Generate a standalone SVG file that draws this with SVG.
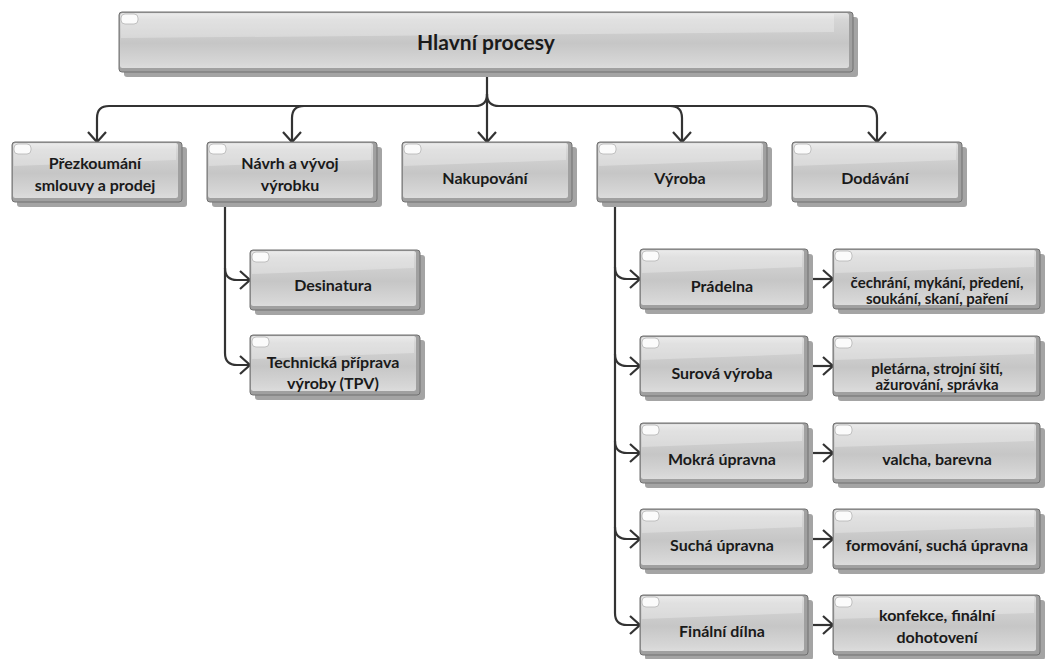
<svg xmlns="http://www.w3.org/2000/svg" width="1046" height="659" viewBox="0 0 1046 659">
  <style>
    .shadow { fill: #a4a4a4; }
    .frame { fill: #a0a0a0; stroke: #707070; stroke-width: 1; }
    .face { fill: url(#faceGrad); }
    .gloss { fill: #ffffff; opacity: 0.28; }
    .tab { fill: #fbfbfb; stroke: #b4b4b4; stroke-width: 0.8; }
    text { font-family: "Lato", "Liberation Sans", sans-serif; font-weight: 700; font-size: 16px; fill: #1a1a1a; text-anchor: middle; }
    text.title { font-size: 21px; }
    text.small { font-size: 15px; }
    .conn path { fill: none; stroke: #333333; stroke-width: 2.2; stroke-linejoin: round; marker-end: url(#arrow); }
  </style>
  <defs>
    <linearGradient id="faceGrad" x1="0" y1="0" x2="0" y2="1">
      <stop offset="0" stop-color="#e4e4e4"/>
      <stop offset="0.12" stop-color="#d6d6d6"/>
      <stop offset="0.55" stop-color="#c6c6c6"/>
      <stop offset="0.9" stop-color="#d6d6d6"/>
      <stop offset="1" stop-color="#dcdcdc"/>
    </linearGradient>
    <marker id="arrow" markerUnits="userSpaceOnUse" viewBox="-12 -11 14 22" refX="0" refY="0" markerWidth="14" markerHeight="22" orient="auto">
      <path d="M-10,-9 L0,0 L-10,9" fill="none" stroke="#333333" stroke-width="2.2" stroke-linejoin="miter"/>
    </marker>
  </defs>

  <rect width="1046" height="659" fill="#ffffff"/>

  <!-- connectors -->
  <g id="connectors" class="conn">
    <path d="M487,72 V142"/>
    <path d="M487,94 Q487,106 475,106 H109 Q97,106 97,118 V142"/>
    <path d="M304,106 Q292,106 292,118 V142"/>
    <path d="M487,94 Q487,106 499,106 H670 Q682,106 682,118 V142"/>
    <path d="M670,106 H865 Q877,106 877,118 V142"/>

    <path d="M225,202 V268 Q225,280 237,280 H250"/>
    <path d="M225,268 V353 Q225,365 237,365 H250"/>

    <path d="M615,202 V267 Q615,279 627,279 H640"/>
    <path d="M615,267 V354 Q615,366 627,366 H640"/>
    <path d="M615,354 V441 Q615,453 627,453 H640"/>
    <path d="M615,441 V527 Q615,539 627,539 H640"/>
    <path d="M615,527 V613 Q615,625 627,625 H640"/>

    <path d="M809,279 H833"/>
    <path d="M809,366 H833"/>
    <path d="M809,453 H833"/>
    <path d="M809,539 H833"/>
    <path d="M809,625 H833"/>
  </g>

  <!-- root -->
  <g id="hlavni-procesy">
    <rect class="shadow" x="124" y="17" width="734" height="60" rx="3"/>
    <rect class="frame" x="119" y="12" width="734" height="60" rx="3"/>
    <rect class="face" x="120" y="13" width="729" height="55" rx="2.5"/>
    <path class="gloss" d="M121,14 H834 V32 L121,38 Z"/>
    <rect class="tab" x="121" y="14" width="17" height="10" rx="4"/>
    <text class="title" x="486" y="50">Hlavní procesy</text>
  </g>

  <!-- first level -->
  <g id="prezkoumani">
    <rect class="shadow" x="17" y="147" width="170" height="60" rx="3"/>
    <rect class="frame" x="12" y="142" width="170" height="60" rx="3"/>
    <rect class="face" x="13" y="143" width="165" height="55" rx="2.5"/>
    <path class="gloss" d="M14,144 H176 V160 L14,166 Z"/>
    <rect class="tab" x="14" y="144" width="17" height="10" rx="4"/>
    <text x="95" y="169">Přezkoumání</text>
    <text x="95" y="191">smlouvy a prodej</text>
  </g>

  <g id="navrh-vyvoj">
    <rect class="shadow" x="212" y="147" width="170" height="60" rx="3"/>
    <rect class="frame" x="207" y="142" width="170" height="60" rx="3"/>
    <rect class="face" x="208" y="143" width="165" height="55" rx="2.5"/>
    <path class="gloss" d="M209,144 H371 V160 L209,166 Z"/>
    <rect class="tab" x="209" y="144" width="17" height="10" rx="4"/>
    <text x="290" y="169">Návrh a vývoj</text>
    <text x="290" y="191">výrobku</text>
  </g>

  <g id="nakupovani">
    <rect class="shadow" x="407" y="147" width="170" height="60" rx="3"/>
    <rect class="frame" x="402" y="142" width="170" height="60" rx="3"/>
    <rect class="face" x="403" y="143" width="165" height="55" rx="2.5"/>
    <path class="gloss" d="M404,144 H566 V160 L404,166 Z"/>
    <rect class="tab" x="404" y="144" width="17" height="10" rx="4"/>
    <text x="485" y="184">Nakupování</text>
  </g>

  <g id="vyroba">
    <rect class="shadow" x="602" y="147" width="170" height="60" rx="3"/>
    <rect class="frame" x="597" y="142" width="170" height="60" rx="3"/>
    <rect class="face" x="598" y="143" width="165" height="55" rx="2.5"/>
    <path class="gloss" d="M599,144 H761 V160 L599,166 Z"/>
    <rect class="tab" x="599" y="144" width="17" height="10" rx="4"/>
    <text x="680" y="184">Výroba</text>
  </g>

  <g id="dodavani">
    <rect class="shadow" x="797" y="147" width="170" height="60" rx="3"/>
    <rect class="frame" x="792" y="142" width="170" height="60" rx="3"/>
    <rect class="face" x="793" y="143" width="165" height="55" rx="2.5"/>
    <path class="gloss" d="M794,144 H956 V160 L794,166 Z"/>
    <rect class="tab" x="794" y="144" width="17" height="10" rx="4"/>
    <text x="875" y="184">Dodávání</text>
  </g>

  <!-- design branch -->
  <g id="desinatura">
    <rect class="shadow" x="255" y="255" width="170" height="60" rx="3"/>
    <rect class="frame" x="250" y="250" width="170" height="60" rx="3"/>
    <rect class="face" x="251" y="251" width="165" height="55" rx="2.5"/>
    <path class="gloss" d="M252,252 H414 V268 L252,274 Z"/>
    <rect class="tab" x="252" y="252" width="17" height="10" rx="4"/>
    <text x="333" y="291">Desinatura</text>
  </g>

  <g id="tpv">
    <rect class="shadow" x="255" y="340" width="170" height="60" rx="3"/>
    <rect class="frame" x="250" y="335" width="170" height="60" rx="3"/>
    <rect class="face" x="251" y="336" width="165" height="55" rx="2.5"/>
    <path class="gloss" d="M252,337 H414 V353 L252,359 Z"/>
    <rect class="tab" x="252" y="337" width="17" height="10" rx="4"/>
    <text x="333" y="368">Technická příprava</text>
    <text x="333" y="389">výroby (TPV)</text>
  </g>

  <!-- production branch -->
  <g id="pradelna">
    <rect class="shadow" x="645" y="254" width="168" height="60" rx="3"/>
    <rect class="frame" x="640" y="249" width="168" height="60" rx="3"/>
    <rect class="face" x="641" y="250" width="163" height="55" rx="2.5"/>
    <path class="gloss" d="M642,251 H802 V267 L642,273 Z"/>
    <rect class="tab" x="642" y="251" width="17" height="10" rx="4"/>
    <text x="722" y="292">Prádelna</text>
  </g>

  <g id="pradelna-cinnosti">
    <rect class="shadow" x="838" y="254" width="207" height="60" rx="3"/>
    <rect class="frame" x="833" y="249" width="207" height="60" rx="3"/>
    <rect class="face" x="834" y="250" width="202" height="55" rx="2.5"/>
    <path class="gloss" d="M835,251 H1034 V267 L835,273 Z"/>
    <rect class="tab" x="835" y="251" width="17" height="10" rx="4"/>
    <text class="small" x="937" y="288">čechrání, mykání, předení,</text>
    <text class="small" x="937" y="304">soukání, skaní, paření</text>
  </g>

  <g id="surova-vyroba">
    <rect class="shadow" x="645" y="341" width="168" height="60" rx="3"/>
    <rect class="frame" x="640" y="336" width="168" height="60" rx="3"/>
    <rect class="face" x="641" y="337" width="163" height="55" rx="2.5"/>
    <path class="gloss" d="M642,338 H802 V354 L642,360 Z"/>
    <rect class="tab" x="642" y="338" width="17" height="10" rx="4"/>
    <text x="722" y="379">Surová výroba</text>
  </g>

  <g id="surova-cinnosti">
    <rect class="shadow" x="838" y="341" width="207" height="60" rx="3"/>
    <rect class="frame" x="833" y="336" width="207" height="60" rx="3"/>
    <rect class="face" x="834" y="337" width="202" height="55" rx="2.5"/>
    <path class="gloss" d="M835,338 H1034 V354 L835,360 Z"/>
    <rect class="tab" x="835" y="338" width="17" height="10" rx="4"/>
    <text class="small" x="937" y="374">pletárna, strojní šití,</text>
    <text class="small" x="937" y="390">ažurování, správka</text>
  </g>

  <g id="mokra-upravna">
    <rect class="shadow" x="645" y="428" width="168" height="60" rx="3"/>
    <rect class="frame" x="640" y="423" width="168" height="60" rx="3"/>
    <rect class="face" x="641" y="424" width="163" height="55" rx="2.5"/>
    <path class="gloss" d="M642,425 H802 V441 L642,447 Z"/>
    <rect class="tab" x="642" y="425" width="17" height="10" rx="4"/>
    <text x="722" y="465">Mokrá úpravna</text>
  </g>

  <g id="mokra-cinnosti">
    <rect class="shadow" x="838" y="428" width="207" height="60" rx="3"/>
    <rect class="frame" x="833" y="423" width="207" height="60" rx="3"/>
    <rect class="face" x="834" y="424" width="202" height="55" rx="2.5"/>
    <path class="gloss" d="M835,425 H1034 V441 L835,447 Z"/>
    <rect class="tab" x="835" y="425" width="17" height="10" rx="4"/>
    <text x="937" y="465">valcha, barevna</text>
  </g>

  <g id="sucha-upravna">
    <rect class="shadow" x="645" y="514" width="168" height="60" rx="3"/>
    <rect class="frame" x="640" y="509" width="168" height="60" rx="3"/>
    <rect class="face" x="641" y="510" width="163" height="55" rx="2.5"/>
    <path class="gloss" d="M642,511 H802 V527 L642,533 Z"/>
    <rect class="tab" x="642" y="511" width="17" height="10" rx="4"/>
    <text x="722" y="551">Suchá úpravna</text>
  </g>

  <g id="sucha-cinnosti">
    <rect class="shadow" x="838" y="514" width="207" height="60" rx="3"/>
    <rect class="frame" x="833" y="509" width="207" height="60" rx="3"/>
    <rect class="face" x="834" y="510" width="202" height="55" rx="2.5"/>
    <path class="gloss" d="M835,511 H1034 V527 L835,533 Z"/>
    <rect class="tab" x="835" y="511" width="17" height="10" rx="4"/>
    <text x="937" y="551">formování, suchá úpravna</text>
  </g>

  <g id="finalni-dilna">
    <rect class="shadow" x="645" y="600" width="168" height="60" rx="3"/>
    <rect class="frame" x="640" y="595" width="168" height="60" rx="3"/>
    <rect class="face" x="641" y="596" width="163" height="55" rx="2.5"/>
    <path class="gloss" d="M642,597 H802 V613 L642,619 Z"/>
    <rect class="tab" x="642" y="597" width="17" height="10" rx="4"/>
    <text x="722" y="637">Finální dílna</text>
  </g>

  <g id="finalni-cinnosti">
    <rect class="shadow" x="838" y="600" width="207" height="60" rx="3"/>
    <rect class="frame" x="833" y="595" width="207" height="60" rx="3"/>
    <rect class="face" x="834" y="596" width="202" height="55" rx="2.5"/>
    <path class="gloss" d="M835,597 H1034 V613 L835,619 Z"/>
    <rect class="tab" x="835" y="597" width="17" height="10" rx="4"/>
    <text x="937" y="621">konfekce, finální</text>
    <text x="937" y="643">dohotovení</text>
  </g>
</svg>
